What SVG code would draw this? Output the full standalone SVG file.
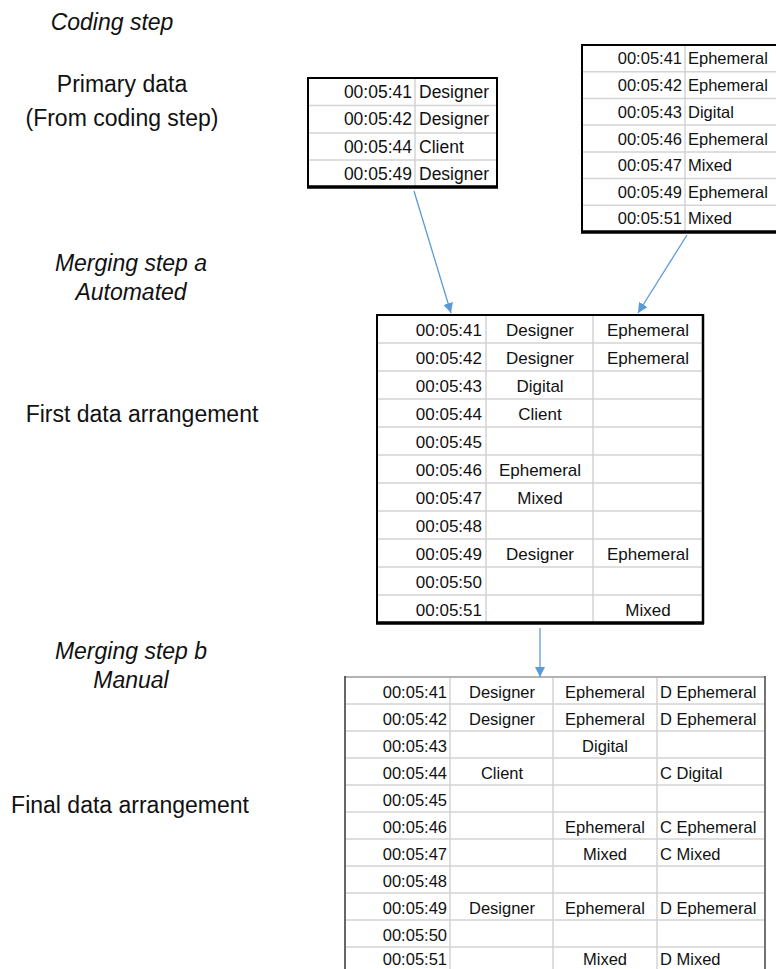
<svg xmlns="http://www.w3.org/2000/svg" width="776" height="969" viewBox="0 0 776 969">
<style>
.lbl{font-family:"Liberation Sans",Arial,sans-serif;font-size:23px;fill:#111;text-anchor:middle}
.it{font-style:italic}
.t{font-family:"Liberation Sans",Arial,sans-serif;fill:#111}
.s1{font-size:17.5px}
.s2{font-size:16.5px}
.s3{font-size:17px}
.s4{font-size:16.5px}
.r{text-anchor:end}
.m{text-anchor:middle}
.grid{stroke:#d4d4d4;stroke-width:1.5;fill:none}
.box{fill:#fff;stroke:#000;stroke-width:2}
.shadow{stroke:#000;stroke-width:3.5}
.conn{stroke:#5b9bd5;stroke-width:1.3;fill:none;marker-end:url(#ah)}
</style>
<defs>
<marker id="ah" viewBox="0 0 10 10" refX="10" refY="5" markerWidth="10" markerHeight="10" markerUnits="userSpaceOnUse" orient="auto">
<path d="M0,0 L10,5 L0,10 z" fill="#5b9bd5"/>
</marker>
</defs>
<rect width="776" height="969" fill="#fff"/>

<g id="labels">
<text class="lbl it" x="112" y="30">Coding step</text>
<text class="lbl" x="122" y="92">Primary data</text>
<text class="lbl" x="122" y="126">(From coding step)</text>
<text class="lbl it" x="131" y="271">Merging step a</text>
<text class="lbl it" x="131" y="300">Automated</text>
<text class="lbl" x="142" y="422">First data arrangement</text>
<text class="lbl it" x="131" y="659">Merging step b</text>
<text class="lbl it" x="131" y="688">Manual</text>
<text class="lbl" x="130" y="813">Final data arrangement</text>
</g>

<g id="primary-actors">
<rect class="box" x="308" y="78" width="189" height="109"/>
<path class="grid" d="M309,105.5H496M309,133H496M309,160H496M415,79V186"/>
<line class="shadow" x1="307" y1="187" x2="498" y2="187"/>
<g class="t s1">
<text class="r" x="412" y="98">00:05:41</text><text x="419" y="98">Designer</text>
<text class="r" x="412" y="125">00:05:42</text><text x="419" y="125">Designer</text>
<text class="r" x="412" y="153">00:05:44</text><text x="419" y="153">Client</text>
<text class="r" x="412" y="180">00:05:49</text><text x="419" y="180">Designer</text>
</g>
</g>

<g id="primary-media">
<rect class="box" x="582" y="45" width="200" height="187"/>
<path class="grid" d="M583,71.7H776M583,98.4H776M583,125.1H776M583,151.9H776M583,178.6H776M583,205.3H776M685,46V231"/>
<line class="shadow" x1="581" y1="232" x2="776" y2="232"/>
<g class="t s2">
<text class="r" x="682" y="64">00:05:41</text><text x="688" y="64">Ephemeral</text>
<text class="r" x="682" y="91">00:05:42</text><text x="688" y="91">Ephemeral</text>
<text class="r" x="682" y="118">00:05:43</text><text x="688" y="118">Digital</text>
<text class="r" x="682" y="145">00:05:46</text><text x="688" y="145">Ephemeral</text>
<text class="r" x="682" y="171">00:05:47</text><text x="688" y="171">Mixed</text>
<text class="r" x="682" y="198">00:05:49</text><text x="688" y="198">Ephemeral</text>
<text class="r" x="682" y="224">00:05:51</text><text x="688" y="224">Mixed</text>
</g>
</g>

<g id="first-arrangement">
<rect class="box" x="377" y="315" width="326" height="308"/>
<path class="grid" d="M378,343H702M378,371H702M378,399H702M378,427H702M378,455H702M378,483H702M378,511H702M378,539H702M378,567H702M378,595H702M486,316V622M593,316V622"/>
<line class="shadow" x1="376" y1="623" x2="704" y2="623"/>
<line class="shadow" x1="703" y1="314" x2="703" y2="624" style="stroke-width:2.5"/>
<g class="t s3">
<text class="r" x="482" y="336">00:05:41</text><text class="m" x="540" y="336">Designer</text><text class="m" x="648" y="336">Ephemeral</text>
<text class="r" x="482" y="364">00:05:42</text><text class="m" x="540" y="364">Designer</text><text class="m" x="648" y="364">Ephemeral</text>
<text class="r" x="482" y="392">00:05:43</text><text class="m" x="540" y="392">Digital</text>
<text class="r" x="482" y="420">00:05:44</text><text class="m" x="540" y="420">Client</text>
<text class="r" x="482" y="448">00:05:45</text>
<text class="r" x="482" y="476">00:05:46</text><text class="m" x="540" y="476">Ephemeral</text>
<text class="r" x="482" y="504">00:05:47</text><text class="m" x="540" y="504">Mixed</text>
<text class="r" x="482" y="532">00:05:48</text>
<text class="r" x="482" y="560">00:05:49</text><text class="m" x="540" y="560">Designer</text><text class="m" x="648" y="560">Ephemeral</text>
<text class="r" x="482" y="588">00:05:50</text>
<text class="r" x="482" y="616">00:05:51</text><text class="m" x="648" y="616">Mixed</text>
</g>
</g>

<g id="final-arrangement">
<line x1="345" y1="677" x2="765" y2="677" stroke="#9a9a9a" stroke-width="1.5"/>
<line x1="345" y1="676" x2="345" y2="969" stroke="#333" stroke-width="1.5"/>
<line x1="765" y1="676" x2="765" y2="969" stroke="#444" stroke-width="1.5"/>
<path class="grid" d="M346,704H764M346,731H764M346,758H764M346,785H764M346,812H764M346,839H764M346,866H764M346,893H764M346,920H764M346,947H764M450,678V969M553,678V969M657,678V969"/>
<g class="t s4">
<text class="r" x="447" y="698">00:05:41</text><text class="m" x="502" y="698">Designer</text><text class="m" x="605" y="698">Ephemeral</text><text x="660" y="698">D Ephemeral</text>
<text class="r" x="447" y="725">00:05:42</text><text class="m" x="502" y="725">Designer</text><text class="m" x="605" y="725">Ephemeral</text><text x="660" y="725">D Ephemeral</text>
<text class="r" x="447" y="752">00:05:43</text><text class="m" x="605" y="752">Digital</text>
<text class="r" x="447" y="779">00:05:44</text><text class="m" x="502" y="779">Client</text><text x="660" y="779">C Digital</text>
<text class="r" x="447" y="806">00:05:45</text>
<text class="r" x="447" y="833">00:05:46</text><text class="m" x="605" y="833">Ephemeral</text><text x="660" y="833">C Ephemeral</text>
<text class="r" x="447" y="860">00:05:47</text><text class="m" x="605" y="860">Mixed</text><text x="660" y="860">C Mixed</text>
<text class="r" x="447" y="887">00:05:48</text>
<text class="r" x="447" y="914">00:05:49</text><text class="m" x="502" y="914">Designer</text><text class="m" x="605" y="914">Ephemeral</text><text x="660" y="914">D Ephemeral</text>
<text class="r" x="447" y="941">00:05:50</text>
<text class="r" x="447" y="965">00:05:51</text><text class="m" x="605" y="965">Mixed</text><text x="660" y="965">D Mixed</text>
</g>
</g>

<g id="connectors">
<line class="conn" x1="414" y1="191" x2="451" y2="313"/>
<line class="conn" x1="687" y1="235" x2="638" y2="313"/>
<line class="conn" x1="540" y1="628" x2="540" y2="677"/>
</g>
</svg>
